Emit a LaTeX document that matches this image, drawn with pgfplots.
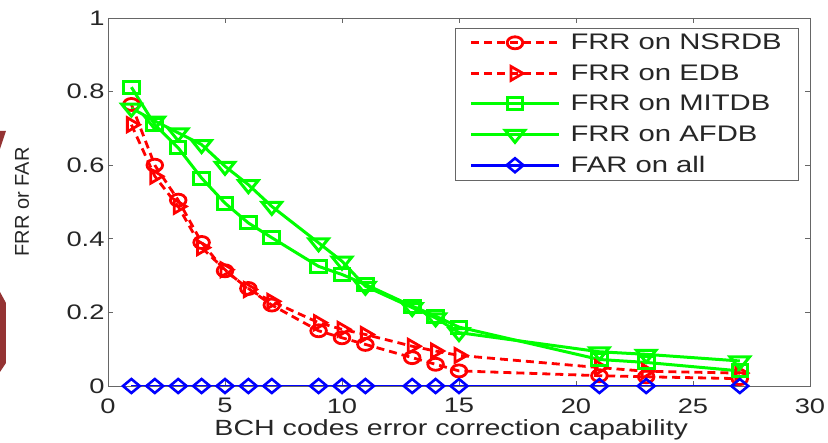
\documentclass[border=0pt]{standalone}
\usepackage{pgfplots}
\pgfplotsset{compat=1.18}
\usepackage{fontspec}
\setmainfont{Liberation Sans}[FakeStretch=1.3]
\newfontfamily\ylabfont{Liberation Sans}
\definecolor{mred}{rgb}{1,0,0}
\definecolor{mgreen}{rgb}{0,1,0}
\definecolor{mblue}{rgb}{0,0,1}
\definecolor{deco}{rgb}{0.58,0.2,0.2}
\begin{document}
\begin{tikzpicture}
\begin{axis}[
  scale only axis,
  width=702pt, height=368pt,
  xmin=0, xmax=30, ymin=0, ymax=1,
  xtick={0,5,...,30}, ytick={0,0.2,...,1},
  yticklabels={0,0.2,0.4,0.6,0.8,1},
  /pgf/number format/assume math mode=true,
  tick align=inside, major tick length=5pt,
  axis line style={gray!80!black, line width=0.9pt},
  every tick/.style={gray!80!black, line width=0.9pt},
  ticklabel style={font=\fontsize{21}{21}\selectfont, text=black!85},
  xticklabel style={yshift=-9pt},
  xlabel={BCH codes error correction capability},
  xlabel style={at={(axis description cs:0.489,-0.12)}, anchor=center, font=\fontsize{22}{22}\selectfont, text=black!85},
  ylabel={FRR or FAR},
  ylabel style={at={(axis description cs:-0.1225,0.5)}, anchor=center, font=\ylabfont\fontsize{20}{20}\selectfont, text=black!85},
  legend style={at={(1,1)}, anchor=north east, xshift=-12pt, yshift=-10pt,
    draw=gray!80!black, font=\fontsize{22.5}{22.5}\selectfont,
    row sep=9.5pt, inner xsep=14pt, inner ysep=4pt, text=black!85},
  legend cell align=left,
  legend image code/.code={\draw[mark repeat=2,mark phase=2] plot coordinates {(0pt,0pt) (44pt,0pt) (88pt,0pt)};\path (96pt,0pt);},
]
\addplot[mred, line width=2.8pt, dash pattern=on 8pt off 5pt, mark=o, mark size=6pt, mark options={solid, xscale=1.3}] coordinates {
(1,0.765) (2,0.600) (3,0.505) (4,0.390) (5,0.313) (6,0.265) (7,0.220) (9,0.150) (10,0.131) (11,0.113) (13,0.077) (14,0.059) (15,0.041) (21,0.028) (23,0.025) (27,0.020)};
\addlegendentry{FRR on NSRDB}
\addplot[mred, line width=2.8pt, dash pattern=on 8pt off 5pt, mark=triangle, mark size=8pt, mark options={solid, rotate=-90}] coordinates {
(1,0.710) (2,0.570) (3,0.488) (4,0.376) (5,0.316) (6,0.262) (7,0.230) (9,0.172) (10,0.154) (11,0.140) (13,0.108) (14,0.095) (15,0.083) (21,0.050) (23,0.040) (27,0.035)};
\addlegendentry{FRR on EDB}
\addplot[mgreen, line width=3pt, mark=square, mark size=6pt, mark options={solid, xscale=1.3}] coordinates {
(1,0.812) (2,0.710) (3,0.647) (4,0.565) (5,0.497) (6,0.443) (7,0.403) (9,0.325) (10,0.303) (11,0.276) (13,0.217) (14,0.190) (15,0.160) (21,0.072) (23,0.064) (27,0.041)};
\addlegendentry{FRR on MITDB}
\addplot[mgreen, line width=3pt, mark=triangle, mark size=8pt, mark options={solid, rotate=180, xscale=1.4}] coordinates {
(1,0.755) (2,0.720) (3,0.688) (4,0.656) (5,0.597) (6,0.547) (7,0.488) (9,0.389) (10,0.339) (11,0.271) (13,0.213) (14,0.185) (15,0.145) (21,0.093) (23,0.086) (27,0.068)};
\addlegendentry{FRR on AFDB}
\addplot[mblue, line width=2.6pt, mark=diamond, mark size=7pt, mark options={solid, xscale=1.6}] coordinates {
(1,0) (2,0) (3,0) (4,0) (5,0) (6,0) (7,0) (9,0) (10,0) (11,0) (13,0) (14,0) (15,0) (21,0) (23,0) (27,0)};
\addlegendentry{FAR on all}
\end{axis}
\pgfresetboundingbox
\begin{scope}[shift={(current axis.north west)}, xshift=-108pt, yshift=18pt]
\path (0,0) rectangle (828pt,-443pt);
\fill[deco] (0,-131pt) -- (6pt,-131pt) -- (0,-149pt) -- cycle;
\fill[deco] (0,-292pt) -- (6pt,-303pt) -- (6pt,-363pt) -- (0,-372pt) -- cycle;
\end{scope}
\end{tikzpicture}
\end{document}
